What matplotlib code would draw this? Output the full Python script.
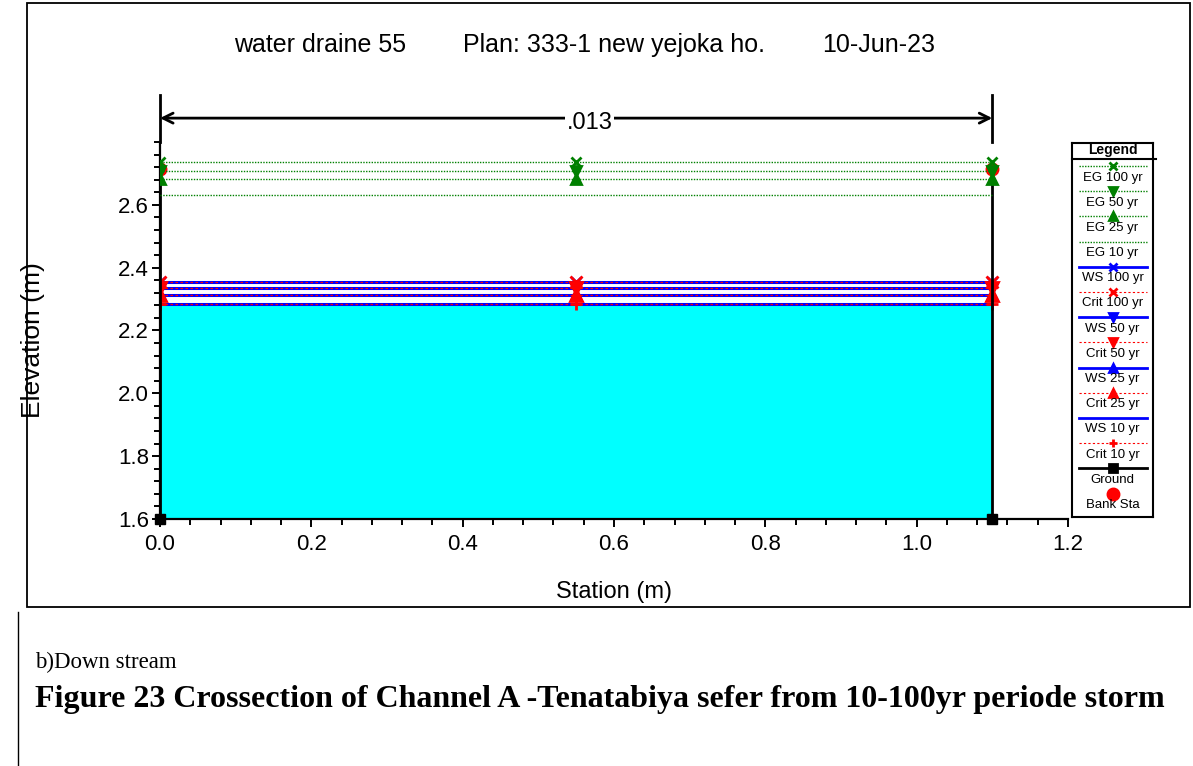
import matplotlib.pyplot as plt
from matplotlib.lines import Line2D
from matplotlib.patches import Rectangle

plt.rcParams['font.family'] = ['Liberation Sans', 'DejaVu Sans']

station = [0.0, 0.55, 1.1]
profiles = ['100 yr', '50 yr', '25 yr', '10 yr']
eg_elev = [2.736, 2.708, 2.681, 2.632]
ws_elev = [2.355, 2.334, 2.312, 2.285]
crit_elev = [2.355, 2.334, 2.312, 2.285]
ground_sta = [0.0, 0.0, 1.1, 1.1]
ground_elev = [2.715, 1.6, 1.6, 2.715]
bank_sta = [0.0, 1.1]
bank_elev = [2.715, 2.715]
n_value = '.013'
x_ticks = [0.0, 0.2, 0.4, 0.6, 0.8, 1.0, 1.2]
y_ticks = [1.6, 1.8, 2.0, 2.2, 2.4, 2.6]

eg_markers = ['x', 'v', '^', None]
ws_markers = ['x', 'v', '^', None]
crit_markers = ['x', 'v', '^', '+']

W, H = 1193, 766
fig = plt.figure(figsize=(W / 100, H / 100), dpi=100)


def fx(px):
    return px / W


def fy(py):
    return 1 - py / H


ax = fig.add_axes([fx(160), fy(519), fx(1068) - fx(160), fy(142) - fy(519)])

# water fill (lowest profile)
ax.fill_between([station[0], station[-1]], ground_elev[1], ws_elev[-1], color='#00ffff', lw=0, zorder=1)

# WS and crit lines
for i, p in enumerate(profiles):
    ax.plot(station, [ws_elev[i]] * 3, color='#0000ff', lw=2.2, marker=ws_markers[i],
            ms=7, mew=2, zorder=3)
for i, p in enumerate(profiles):
    ax.plot(station, [crit_elev[i]] * 3, color='#ff0000', lw=0.9, ls=(0, (2, 2)),
            marker=crit_markers[i], ms=8, mew=2, zorder=4)

# ground
ax.plot(ground_sta, ground_elev, color='black', lw=2, zorder=5)
ax.plot(ground_sta[1:3], ground_elev[1:3], ls='none', marker='s', color='black', ms=7, zorder=6,
        clip_on=False)

# bank stations
ax.plot(bank_sta, bank_elev, ls='none', marker='o', color='#ff0000', ms=9, zorder=5)

# EG lines
for i, p in enumerate(profiles):
    ax.plot(station, [eg_elev[i]] * 3, color='#008000', lw=1, ls=(0, (1, 1)),
            marker=eg_markers[i], ms=7, mew=2, zorder=6)

ax.set_xlim(0, 1.2)
ax.set_ylim(1.6, 2.8)
ax.set_xticks(x_ticks)
ax.set_xticklabels([f'{v:.1f}' for v in x_ticks])
ax.set_yticks(y_ticks)
ax.set_yticklabels([f'{v:.1f}' for v in y_ticks])
ax.set_xticks([i * 0.04 for i in range(31)], minor=True)
ax.set_yticks([1.6 + i * 0.04 for i in range(31)], minor=True)
ax.tick_params(which='major', length=6, width=1.4, labelsize=16, pad=2)
ax.tick_params(axis='x', which='major', pad=5)
ax.tick_params(which='minor', length=4.3, width=1.4)
for s in ['top', 'right']:
    ax.spines[s].set_visible(False)
for s in ['left', 'bottom']:
    ax.spines[s].set_linewidth(1.6)
ax.patch.set_visible(False)

# Manning's n bracket above the section
y_top, y_arrow = 2.951, 2.876
for s in [station[0], station[-1]]:
    ax.plot([s, s], [2.8, y_top], color='black', lw=2, clip_on=False)
mid = 0.568
ax.annotate('', xy=(station[0], y_arrow), xytext=(mid, y_arrow), annotation_clip=False,
            arrowprops=dict(arrowstyle='->', lw=2, color='black', shrinkA=0, shrinkB=0,
                            mutation_scale=18))
ax.annotate('', xy=(station[-1], y_arrow), xytext=(mid, y_arrow), annotation_clip=False,
            arrowprops=dict(arrowstyle='->', lw=2, color='black', shrinkA=0, shrinkB=0,
                            mutation_scale=18))
ax.text(mid, 2.860, n_value, ha='center', va='center', fontsize=17, clip_on=False,
        bbox=dict(facecolor='white', edgecolor='none', pad=1))

# titles / axis labels
fig.text(fx(320), fy(45), 'water draine 55', ha='center', va='center', fontsize=18)
fig.text(fx(614), fy(45), 'Plan: 333-1 new yejoka ho.', ha='center', va='center', fontsize=18)
fig.text(fx(879), fy(45), '10-Jun-23', ha='center', va='center', fontsize=18)
fig.text(fx(33), fy(340), 'Elevation (m)', rotation=90, ha='center', va='center', fontsize=19)
fig.text(fx(614), fy(592), 'Station (m)', ha='center', va='center', fontsize=17)

# legend box
lx0, lx1, ly0, ly1 = 1072, 1153, 143, 517
lax = fig.add_axes([fx(lx0), fy(ly1), fx(lx1) - fx(lx0), fy(ly0) - fy(ly1)])
lax.set_xlim(lx0, lx1)
lax.set_ylim(ly1, ly0)
lax.set_xticks([])
lax.set_yticks([])
for s in lax.spines.values():
    s.set_linewidth(1.5)
lax.text((lx0 + lx1) / 2, 150, 'Legend', ha='center', va='center', fontsize=10, fontweight='bold')
lax.plot([lx0, 1156], [159, 159], color='black', lw=1.5, clip_on=False)

entries = []
for i, p in enumerate(profiles):
    entries.append(('EG ' + p, '#008000', (0, (1, 1)), 1, eg_markers[i]))
for i, p in enumerate(profiles):
    entries.append(('WS ' + p, '#0000ff', '-', 2, ws_markers[i]))
    entries.append(('Crit ' + p, '#ff0000', (0, (2, 2)), 0.8, crit_markers[i]))
entries.append(('Ground', 'black', '-', 2, 's'))
entries.append(('Bank Sta', '#ff0000', 'none', 0, 'o'))

for k, (lab, col, ls, lw, mk) in enumerate(entries):
    yl = 166 + 25.2 * k
    lax.plot([1079, 1147], [yl, yl], color=col, ls=ls, lw=lw)
    if mk is not None:
        lax.plot([1113], [yl], color=col, marker=mk, ms=6 if mk != 'o' else 8, mew=2, ls='none')
    lax.text((lx0 + lx1) / 2, yl + 11.5, lab, ha='center', va='center', fontsize=9.5)

# chart frame and page line
fig.add_artist(Rectangle((fx(27), fy(607)), fx(1190) - fx(27), fy(3) - fy(607),
                         transform=fig.transFigure, fill=False, lw=1.3, ec='black'))
fig.add_artist(Line2D([fx(18), fx(18)], [0, fy(612)], transform=fig.transFigure,
                      color='black', lw=1))

# caption below the chart
fig.text(fx(35), fy(662), 'b)Down stream', ha='left', va='center', fontsize=16.5,
         family=['Liberation Serif', 'DejaVu Serif'])
fig.text(fx(35), fy(700), 'Figure 23 Crossection of Channel A -Tenatabiya sefer from 10-100yr periode storm',
         ha='left', va='center', fontsize=23, fontweight='bold',
         family=['Liberation Serif', 'DejaVu Serif'])

fig.savefig('out.png', dpi=100)
